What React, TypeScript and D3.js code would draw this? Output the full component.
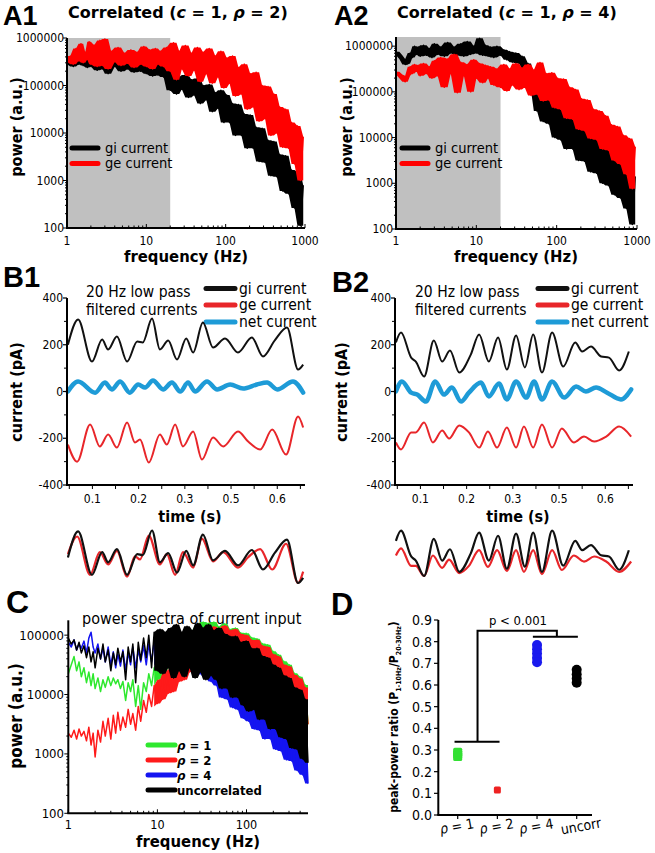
import React from "react";
import * as d3 from "d3";

const FONT = "'DejaVu Sans Condensed', 'DejaVu Sans', sans-serif";
const FONT_WIDE = "'DejaVu Sans', sans-serif";
const FONT_LETTER = "'Liberation Sans', Arial, sans-serif";

// ---------- Panel A: power spectra (values are log10 of power) ----------
const freqA = [1,1.1,1.2,1.3,1.4,1.5,1.6,1.7,1.8,1.9,2,2.2,2.4,2.6,2.8,3,3.3,3.6,4,4.4,4.8,5.3,5.8,6.4,7,7.7,8.5,9.3,10,11,12,13,14,15,16.5,18,20,22,24,26,28,31,34,37,40,44,48,52,57,62,68,74,80,87,95,103,112,122,133,145,158,172,187,204,222,242,264,288,314,342,372,405,441,480,523,570,621,677,737,803,875,950];

const a1GeLog = [5.50,5.62,5.45,5.78,5.52,5.88,5.48,5.70,5.55,5.92,
 5.45,5.85,5.40,5.95,5.42,5.98,5.35,5.72,5.50,5.80,
 5.42,5.68,5.47,5.75,5.38,5.70,5.45,5.82,5.40,5.75,
 5.35,5.78,5.45,5.72,5.40,5.80,5.30,5.90,5.12,5.72,
 5.35,5.84,5.20,5.68,5.32,5.80,5.08,5.70,5.25,5.78,
 5.05,5.62,5.18,5.72,4.95,5.58,5.05,5.62,4.78,5.38,
 4.82,5.45,4.50,5.25,4.55,5.28,4.25,5.00,4.30,4.98,
 3.95,4.82,4.00,4.55,3.70,4.50,3.68,4.22,3.35,4.15,
 3.00,3.92];
const a1GiLog = [5.45,5.55,5.40,5.62,5.45,5.70,5.42,5.60,5.38,5.72,
 5.40,5.65,5.32,5.75,5.35,5.70,5.25,5.58,5.40,5.62,
 5.30,5.55,5.35,5.60,5.28,5.52,5.30,5.58,5.25,5.50,
 5.20,5.48,5.22,5.45,5.18,5.42,4.90,5.28,4.82,5.18,
 4.92,5.22,4.75,5.12,4.80,5.15,4.62,5.00,4.70,5.02,
 4.45,4.85,4.52,4.90,4.22,4.80,4.22,4.62,3.95,4.60,
 3.95,4.40,3.68,4.38,3.68,4.12,3.40,4.10,3.38,3.85,
 3.10,3.82,3.08,3.55,2.78,3.52,2.72,3.22,2.42,3.18,
 2.05,2.90];
const a2GiLog = [5.88,5.80,5.72,5.60,5.62,5.85,5.75,6.00,5.82,5.98,
 5.78,6.02,5.80,5.95,5.75,6.05,5.82,5.98,5.78,6.08,
 5.85,5.98,5.80,6.05,5.78,6.10,5.82,6.00,5.85,6.17,
 5.80,6.02,5.78,5.98,5.75,6.00,5.80,5.92,5.70,5.88,
 5.65,5.85,5.62,5.78,5.50,5.62,5.02,5.32,4.58,4.92,
 4.35,4.88,4.30,4.68,4.00,4.65,3.95,4.50,3.75,4.48,
 3.75,4.30,3.50,4.26,3.48,4.05,3.25,4.05,3.22,3.82,
 3.00,3.82,2.95,3.60,2.75,3.58,2.68,3.40,2.45,3.38,
 2.10,3.15];
const a2GeLog = [5.44,5.38,5.30,5.22,5.35,5.55,5.40,5.60,5.45,5.58,
 5.35,5.62,5.40,5.55,5.30,5.68,5.35,5.75,5.10,5.72,
 5.40,5.82,4.98,5.65,5.35,5.60,5.00,5.70,5.30,5.62,
 5.20,5.58,5.30,5.55,5.15,5.50,5.10,5.60,5.02,5.50,
 5.15,5.62,5.05,5.52,5.10,5.60,4.92,5.48,4.95,5.64,
 4.80,5.40,4.82,5.42,4.65,5.30,4.62,5.28,4.42,5.10,
 4.40,5.05,4.18,4.85,4.15,4.82,3.98,4.62,3.95,4.58,
 3.75,4.48,3.72,4.28,3.50,4.24,3.42,4.05,3.20,3.98,
 2.88,3.80];

// ---------- Panel B: 20 Hz low-pass filtered currents (time s, current pA) ----------
const bTickValues = [0.1, 0.2, 0.3, 0.4, 0.5];
const bTickLabels = ["0.1", "0.2", "0.3", "0.5", "0.6"];
const bMinorTicks = [0.05, 0.1, 0.15, 0.2, 0.25, 0.3, 0.35, 0.4, 0.45, 0.5, 0.55];
const bYTicks = [-400, -200, 0, 200, 400];
const bYMinor = [-300, -100, 100, 300];

const b1GiT = [0.047,0.069,0.099,0.121,0.134,0.153,0.175,0.197,0.209,0.229,0.246,0.264,0.283,0.303,0.318,0.339,0.361,0.387,0.415,0.445,0.469,0.495,0.521,0.545,0.556];
const b1GiV = [200,308,128,222,180,235,128,214,210,312,180,218,137,227,167,295,188,227,167,231,150,220,274,94,115];
const b1NetT = [0.047,0.069,0.106,0.127,0.142,0.160,0.181,0.199,0.214,0.231,0.253,0.272,0.290,0.307,0.322,0.348,0.370,0.398,0.426,0.456,0.478,0.500,0.534,0.556];
const b1NetV = [0,43,-5,38,9,43,-5,30,17,47,9,38,0,38,0,43,9,30,13,30,38,9,43,-5];
const b1GeT = [0.047,0.067,0.095,0.116,0.134,0.153,0.175,0.192,0.203,0.222,0.246,0.261,0.279,0.296,0.318,0.337,0.361,0.383,0.415,0.437,0.463,0.489,0.519,0.545,0.556];
const b1GeV = [-227,-300,-141,-235,-184,-240,-133,-218,-205,-304,-184,-227,-141,-235,-171,-291,-197,-235,-171,-214,-248,-163,-270,-107,-154];

const b2GiT = [0.047,0.058,0.080,0.090,0.108,0.129,0.147,0.164,0.184,0.209,0.227,0.248,0.268,0.287,0.307,0.326,0.344,0.363,0.385,0.409,0.435,0.450,0.469,0.491,0.508,0.530,0.551];
const b2GiV = [210,252,145,128,64,218,128,175,81,158,244,128,231,94,240,103,244,81,252,107,210,171,192,150,145,90,171];
const b2NetT = [0.047,0.060,0.080,0.093,0.112,0.132,0.151,0.168,0.188,0.205,0.231,0.248,0.270,0.287,0.307,0.329,0.346,0.363,0.385,0.411,0.437,0.458,0.480,0.504,0.534,0.556];
const b2NetV = [0,43,-5,-13,-43,43,-13,17,-43,-5,38,-21,34,-34,43,-26,43,-34,43,-26,21,0,17,-5,-34,9];
const b2GeT = [0.047,0.058,0.080,0.090,0.108,0.127,0.147,0.162,0.184,0.205,0.227,0.246,0.266,0.287,0.307,0.324,0.344,0.363,0.385,0.406,0.432,0.454,0.476,0.502,0.530,0.556];
const b2GeV = [-218,-248,-175,-175,-133,-218,-167,-201,-145,-175,-240,-171,-240,-154,-240,-150,-240,-141,-240,-158,-218,-193,-214,-193,-150,-193];

// ---------- Panel C: power spectra of current input (log10 power) ----------
const freqC = [1,1.08,1.16,1.24,1.32,1.4,1.5,1.6,1.7,1.8,1.9,2,2.15,2.3,2.45,2.6,2.8,3,3.2,3.4,3.6,3.85,4.1,4.4,4.7,5,5.3,5.7,6.1,6.5,7,7.5,8,8.6,9.2,10,10.7,11.5,12.3,13.2,14.2,15.2,16.3,17.5,18.8,20,21.5,23,24.7,26.5,28.4,30.4,32.6,35,37.5,40,43,46,49,53,57,61,65,70,75,80,86,92,99,106,114,122,131,140,150,161,173,185,198,212,228,244,262,281,301,322,345,370,397,425,456,490];
const cRho1Log = [4.35,4.50,4.64,4.40,4.55,4.30,4.45,4.20,4.38,4.15,
 4.35,4.10,4.28,4.05,4.25,4.12,4.30,4.15,4.28,4.18,
 4.25,4.10,4.22,3.90,4.20,4.05,4.25,3.80,4.15,3.75,
 4.20,4.05,4.35,4.15,4.45,4.25,4.65,4.32,4.78,4.45,
 4.82,4.52,4.92,4.50,4.98,4.60,5.08,4.58,5.08,4.65,
 5.18,4.62,5.22,4.65,5.20,4.58,5.22,4.62,5.14,4.55,
 5.19,4.58,5.10,4.50,5.12,4.48,5.04,4.45,5.03,4.40,
 4.96,4.38,4.94,4.28,4.86,4.24,4.84,4.12,4.73,4.10,
 4.67,3.98,4.56,3.94,4.50,3.80,4.36,3.75,4.30,3.60,
 4.16,3.50];
const cRho2Log = [3.35,3.28,3.40,3.25,3.42,3.30,3.38,3.22,3.45,3.15,
 3.35,2.95,3.40,3.20,3.55,3.30,3.60,3.25,3.65,3.35,
 3.70,3.40,3.62,3.45,3.75,3.50,3.68,3.40,3.80,3.55,
 3.90,3.70,4.00,3.80,4.15,3.85,4.25,3.92,4.38,4.02,
 4.42,4.05,4.58,4.22,4.60,4.25,4.78,4.38,4.82,4.40,
 5.00,4.48,5.02,4.58,5.12,4.52,5.14,4.60,5.10,4.52,
 5.16,4.55,5.08,4.45,5.10,4.48,5.02,4.38,5.00,4.38,
 4.92,4.28,4.92,4.22,4.82,4.20,4.80,4.08,4.68,4.05,
 4.64,3.92,4.50,3.90,4.47,3.78,4.33,3.75,4.27,3.60,
 4.12,3.50];
const cRho4Log = [4.88,4.80,4.92,4.75,4.85,4.78,4.90,4.70,4.95,5.05,
 4.80,4.70,4.85,4.60,4.78,4.55,4.80,4.50,4.72,4.45,
 4.68,4.48,4.75,4.42,4.70,4.50,4.80,4.45,4.75,4.55,
 4.82,4.50,4.85,4.55,4.90,4.50,4.95,4.42,5.02,4.50,
 4.96,4.38,5.04,4.48,4.98,4.35,5.06,4.48,4.98,4.32,
 5.03,4.35,4.96,4.28,4.97,4.22,4.88,4.15,4.86,3.95,
 4.78,3.92,4.74,3.78,4.64,3.75,4.62,3.60,4.54,3.55,
 4.46,3.42,4.36,3.40,4.32,3.25,4.20,3.25,4.16,3.08,
 4.04,3.05,3.96,2.90,3.84,2.88,3.76,2.72,3.66,2.65,
 3.62,2.50];
const cUncorrLog = [4.95,4.85,4.92,4.75,4.88,4.70,4.82,4.62,4.80,4.55,
 4.72,4.45,4.78,4.60,4.85,4.55,4.75,4.40,4.70,4.50,
 4.78,4.55,4.72,4.25,4.80,4.55,4.85,4.20,4.88,4.58,
 4.95,4.62,5.00,4.45,5.05,4.40,5.10,4.35,5.05,4.45,
 5.12,4.28,5.18,4.40,5.05,4.30,5.15,4.45,5.08,4.28,
 5.20,4.38,5.12,4.25,5.18,4.32,5.08,4.25,5.12,4.10,
 5.02,4.10,4.98,3.95,4.98,3.95,4.88,3.82,4.90,3.72,
 4.78,3.75,4.78,3.58,4.65,3.58,4.62,3.42,4.50,3.42,
 4.45,3.28,4.32,3.25,4.28,3.10,4.12,3.08,4.08,2.92,
 3.92,2.85];

// ---------- Panel D: peak-power ratio ----------
const dCategories = ["ρ = 1", "ρ = 2", "ρ = 4", "uncorr"];
const dRho1 = [0.27, 0.28, 0.29];
const dRho2 = [0.115];
const dRho4 = [0.785, 0.765, 0.745, 0.725, 0.705];
const dUncorr = [0.67, 0.65, 0.63, 0.61];
const dYTicks = [0, 0.1, 0.2, 0.3, 0.4, 0.5, 0.6, 0.7, 0.8, 0.9];

const isMajorLog = (t: number) => Math.abs(Math.log10(t) - Math.round(Math.log10(t))) < 1e-9;
const fmtInt = d3.format("d");

// dense noisy spectrum: filled band between neighbouring extremes + the jagged trace
function noisyPaths(vals: number[], freqs: number[], x: (f: number) => number, y: (p: number) => number, minF: number) {
  const n = vals.length;
  const lo = (i: number) => Math.min(vals[Math.max(0, i - 1)], vals[i], vals[Math.min(n - 1, i + 1)]);
  const hi = (i: number) => Math.max(vals[Math.max(0, i - 1)], vals[i], vals[Math.min(n - 1, i + 1)]);
  const area = d3.area<number>()
    .defined((_, i) => freqs[i] >= minF)
    .x((_, i) => x(freqs[i]))
    .y0((_, i) => y(Math.pow(10, lo(i))))
    .y1((_, i) => y(Math.pow(10, hi(i))));
  const line = d3.line<number>().x((_, i) => x(freqs[i])).y((v) => y(Math.pow(10, v)));
  return { band: area(vals) || "", trace: line(vals) || "" };
}

function Noisy({ vals, freqs, x, y, minF, color }: any) {
  const { band, trace } = noisyPaths(vals, freqs, x, y, minF);
  return (
    <g>
      <path d={band} fill={color} stroke="none" />
      <path d={trace} fill="none" stroke={color} strokeWidth={1.5} strokeLinejoin="round" />
    </g>
  );
}

function Rho({ n }: { n: string }) {
  return (
    <>
      <tspan fontStyle="italic">ρ</tspan>
      <tspan>{" = " + n}</tspan>
    </>
  );
}

function SpectrumA(p: {
  x0: number; x1: number; yTop: number; yBottom: number; topLog: number;
  gi: number[]; ge: number[]; letter: string; letterX: number; titleX: number; rho: string;
  yLabelX: number; xLabelX: number; legendX: number;
}) {
  const x = d3.scaleLog().domain([1, 1000]).range([p.x0, p.x1]);
  const y = d3.scaleLog().domain([100, Math.pow(10, p.topLog)]).range([p.yBottom, p.yTop]);
  const xt = x.ticks();
  const yt = y.ticks();
  return (
    <g>
      <text x={p.letterX} y={25} fontFamily={FONT_LETTER} fontWeight="bold" fontSize={27}>{p.letter}</text>
      <text x={p.titleX} y={18} fontFamily={FONT_WIDE} fontWeight="bold" fontSize={16}>
        <tspan>Correlated (</tspan>
        <tspan fontStyle="italic">c</tspan>
        <tspan>{" = 1, "}</tspan>
        <tspan fontStyle="italic">ρ</tspan>
        <tspan>{" = " + p.rho + ")"}</tspan>
      </text>
      <rect x={p.x0} y={p.yTop} width={x(20) - p.x0} height={p.yBottom - p.yTop} fill="#c0c0c0" />
      <Noisy vals={p.gi} freqs={freqA} x={x} y={y} minF={1} color="#000" />
      <Noisy vals={p.ge} freqs={freqA} x={x} y={y} minF={1} color="#ff0000" />
      <line x1={p.x0} x2={p.x0} y1={p.yTop} y2={p.yBottom} stroke="#000" strokeWidth={2} />
      <line x1={p.x0 - 1} x2={p.x1} y1={p.yBottom} y2={p.yBottom} stroke="#000" strokeWidth={2} />
      {yt.map((t) => (
        <line key={"yt" + t} x1={p.x0} x2={p.x0 - (isMajorLog(t) ? 4 : 2)} y1={y(t)} y2={y(t)} stroke="#000" strokeWidth={1} />
      ))}
      {yt.filter(isMajorLog).map((t) => (
        <text key={"yl" + t} x={p.x0 - 3} y={y(t)} dy="0.35em" textAnchor="end" fontSize={12}>{fmtInt(t)}</text>
      ))}
      {xt.map((t) => (
        <line key={"xt" + t} x1={x(t)} x2={x(t)} y1={p.yBottom} y2={p.yBottom - (isMajorLog(t) ? 4 : 2.5)} stroke="#000" strokeWidth={1} />
      ))}
      {xt.filter(isMajorLog).map((t) => (
        <text key={"xl" + t} x={x(t)} y={241} dy="0.35em" textAnchor="middle" fontSize={12}>{fmtInt(t)}</text>
      ))}
      <text x={p.xLabelX} y={262} textAnchor="middle" fontWeight="bold" fontSize={16.5}>frequency (Hz)</text>
      <text transform={`translate(${p.yLabelX},127) rotate(-90)`} textAnchor="middle" fontWeight="bold" fontSize={16}>power (a.u.)</text>
      <line x1={p.legendX} x2={p.legendX + 26} y1={148} y2={148} stroke="#000" strokeWidth={5} strokeLinecap="round" />
      <line x1={p.legendX} x2={p.legendX + 26} y1={163.5} y2={163.5} stroke="#ff0000" strokeWidth={5} strokeLinecap="round" />
      <text x={p.legendX + 33} y={152.5} fontSize={14.5}>gi current</text>
      <text x={p.legendX + 33} y={168} fontSize={14.5}>ge current</text>
    </g>
  );
}

function CurrentB(p: {
  x0: number; x1: number; giT: number[]; giV: number[]; geT: number[]; geV: number[]; netT: number[]; netV: number[];
  letter: string; letterX: number; letterY: number; noteX: number; legX: number; yLabelX: number; xLabelX: number; base: number;
}) {
  const x = d3.scaleLinear().domain([0.045, 0.56]).range([p.x0, p.x1]);
  const y = d3.scaleLinear().domain([-400, 400]).range([485, 298]);
  const mk = (ts: number[], ys: (v: number) => number) =>
    d3.line<number>().x((_, i) => x(ts[i])).y(ys).curve(d3.curveMonotoneX);
  const giMin = d3.min(p.giV) as number;
  const negGe = p.geV.map((v) => -v);
  const negGeMin = d3.min(negGe) as number;
  const yb = d3.scaleLinear().domain([0, 220]).range([p.base, p.base - 53]);
  const legend: [string, string, number][] = [["#111", "gi current", 288.5], ["#e8262a", "ge current", 305], ["#1e9bd7", "net current", 322]];
  return (
    <g>
      <text x={p.letterX} y={p.letterY} fontFamily={FONT_LETTER} fontWeight="bold" fontSize={29}>{p.letter}</text>
      <text x={p.noteX} y={297} fontSize={15.5}>20 Hz low pass</text>
      <text x={p.noteX} y={315} fontSize={15.5}>filtered currents</text>
      {legend.map(([c, t, yy]) => (
        <g key={t}>
          <line x1={p.legX} x2={p.legX + 29} y1={yy} y2={yy} stroke={c} strokeWidth={5} strokeLinecap="round" />
          <text x={p.legX + 33} y={yy + 5} fontSize={15.5}>{t}</text>
        </g>
      ))}
      <path d={mk(p.giT, (v) => y(v))(p.giV) || ""} fill="none" stroke="#111" strokeWidth={2} />
      <path d={mk(p.geT, (v) => y(v))(p.geV) || ""} fill="none" stroke="#e8262a" strokeWidth={2} />
      <path d={mk(p.netT, (v) => y(v))(p.netV) || ""} fill="none" stroke="#1e9bd7" strokeWidth={4.5} strokeLinecap="round" />
      <line x1={p.x0} x2={p.x0} y1={298} y2={485} stroke="#000" strokeWidth={2} />
      <line x1={p.x0 - 1} x2={p.x1} y1={485} y2={485} stroke="#000" strokeWidth={2} />
      {bYTicks.map((t) => (
        <g key={"by" + t}>
          <line x1={p.x0} x2={p.x0 - 4} y1={y(t)} y2={y(t)} stroke="#000" strokeWidth={1.2} />
          <text x={p.x0 - 4} y={y(t)} dy="0.35em" textAnchor="end" fontSize={12}>{t}</text>
        </g>
      ))}
      {bYMinor.map((t) => (
        <line key={"bm" + t} x1={p.x0} x2={p.x0 - 3} y1={y(t)} y2={y(t)} stroke="#000" strokeWidth={1} />
      ))}
      {bMinorTicks.map((t) => (
        <line key={"bx" + t} x1={x(t)} x2={x(t)} y1={485} y2={489} stroke="#000" strokeWidth={1} />
      ))}
      {bTickValues.map((t, i) => (
        <text key={"bl" + t} x={x(t)} y={499} dy="0.35em" textAnchor="middle" fontSize={12}>{bTickLabels[i]}</text>
      ))}
      <text x={p.xLabelX} y={522} textAnchor="middle" fontWeight="bold" fontSize={16}>time (s)</text>
      <text transform={`translate(${p.yLabelX},392) rotate(-90)`} textAnchor="middle" fontWeight="bold" fontSize={16}>current (pA)</text>
      <path d={mk(p.geT, (v) => yb(v - negGeMin))(negGe) || ""} fill="none" stroke="#e8262a" strokeWidth={2.2} />
      <path d={mk(p.giT, (v) => yb(v - giMin))(p.giV) || ""} fill="none" stroke="#111" strokeWidth={2.2} />
    </g>
  );
}

function SpectrumC() {
  const x = d3.scaleLog().domain([1, 490]).range([68.3, 308]);
  const y = d3.scaleLog().domain([100, Math.pow(10, 5.25)]).range([813.3, 620.3]);
  const series: [number[], string][] = [
    [cRho1Log, "#2ee82e"],
    [cRho2Log, "#ff1a1a"],
    [cRho4Log, "#1414f0"],
    [cUncorrLog, "#000"],
  ];
  const xt = x.ticks();
  const yt = y.ticks();
  const legend: [string, string][] = [["#2ee82e", "1"], ["#ff1a1a", "2"], ["#1414f0", "4"], ["#000", "u"]];
  return (
    <g>
      <text x={6} y={613} fontFamily={FONT_LETTER} fontWeight="bold" fontSize={32}>C</text>
      <text x={82} y={624} fontSize={16}>power spectra of current input</text>
      {series.map(([vals, c]) => (
        <Noisy key={c} vals={vals} freqs={freqC} x={x} y={y} minF={9} color={c} />
      ))}
      <line x1={68.3} x2={68.3} y1={620.3} y2={813.3} stroke="#000" strokeWidth={2} />
      <line x1={67.3} x2={308} y1={813.3} y2={813.3} stroke="#000" strokeWidth={2} />
      {yt.map((t) => (
        <line key={"cy" + t} x1={68.3} x2={68.3 - (isMajorLog(t) ? 4 : 2)} y1={y(t)} y2={y(t)} stroke="#000" strokeWidth={1} />
      ))}
      {yt.filter(isMajorLog).map((t) => (
        <text key={"cyl" + t} x={64} y={y(t)} dy="0.35em" textAnchor="end" fontSize={13}>{fmtInt(t)}</text>
      ))}
      {xt.map((t) => (
        <line key={"cx" + t} x1={x(t)} x2={x(t)} y1={813.3} y2={813.3 - (isMajorLog(t) ? 4 : 2.5)} stroke="#000" strokeWidth={1} />
      ))}
      {xt.filter(isMajorLog).map((t) => (
        <text key={"cxl" + t} x={x(t)} y={824.5} dy="0.35em" textAnchor="middle" fontSize={12.5}>{fmtInt(t)}</text>
      ))}
      <text x={198} y={847} textAnchor="middle" fontWeight="bold" fontSize={16.5}>frequency (Hz)</text>
      <text transform="translate(16,716) rotate(-90)" textAnchor="middle" dy="0.35em" fontWeight="bold" fontSize={17}>power (a.u.)</text>
      {legend.map(([c, n], i) => (
        <g key={"cl" + n}>
          <line x1={148} x2={175} y1={745 + i * 15} y2={745 + i * 15} stroke={c} strokeWidth={5} strokeLinecap="round" />
          <text x={177} y={750 + i * 15} fontWeight="bold" fontSize={13}>
            {n === "u" ? "uncorrelated" : <Rho n={n} />}
          </text>
        </g>
      ))}
    </g>
  );
}

function ScatterD() {
  const y = d3.scaleLinear().domain([0, 0.9]).range([815, 620]);
  const x = d3.scalePoint<string>().domain(dCategories).range([457.7, 576.7]);
  const groups: [string, number[], string, string][] = [
    ["ρ = 1", dRho1, "#33e033", "sq"],
    ["ρ = 2", dRho2, "#ee2222", "sq"],
    ["ρ = 4", dRho4, "#1a1aee", "c"],
    ["uncorr", dUncorr, "#000", "c"],
  ];
  const xm12 = ((x("ρ = 1") as number) + (x("ρ = 2") as number)) / 2;
  const xm4u = ((x("ρ = 4") as number) + (x("uncorr") as number)) / 2;
  const yLow = y(0.338), yTop = y(0.85), yHigh = y(0.823);
  return (
    <g>
      <text x={331} y={615} fontFamily={FONT_LETTER} fontWeight="bold" fontSize={31}>D</text>
      <line x1={438.3} x2={438.3} y1={620} y2={815} stroke="#000" strokeWidth={2} />
      <line x1={437.3} x2={592} y1={815} y2={815} stroke="#000" strokeWidth={2} />
      {dYTicks.map((t) => (
        <g key={"dy" + t}>
          <line x1={438.3} x2={434} y1={y(t)} y2={y(t)} stroke="#000" strokeWidth={1.2} />
          <text x={432} y={y(t)} dy="0.35em" textAnchor="end" fontSize={14}>{t.toFixed(1)}</text>
        </g>
      ))}
      {dCategories.map((c) => (
        <g key={"dx" + c}>
          <line x1={x(c) as number} x2={x(c) as number} y1={815} y2={819} stroke="#000" strokeWidth={1.2} />
          <text transform={`translate(${(x(c) as number) + (c === "uncorr" ? 5 : 0)},831) rotate(-10)`} textAnchor="middle" fontSize={14}>
            {c === "uncorr" ? "uncorr" : <Rho n={c.slice(-1)} />}
          </text>
        </g>
      ))}
      <path
        d={`M${xm12 - 23},${yLow}H${xm12 + 22}M${xm12},${yLow}V${yTop}H${xm4u}V${yHigh}M${xm4u - 24},${yHigh}H${xm4u + 21}`}
        fill="none" stroke="#000" strokeWidth={2}
      />
      <text x={518} y={625} textAnchor="middle" fontSize={13}>p &lt; 0.001</text>
      {groups.map(([cat, vals, col, shape]) =>
        vals.map((v, i) =>
          shape === "sq" ? (
            <rect key={cat + i} x={(x(cat) as number) - (vals.length > 1 ? 4.5 : 3.5)} y={y(v) - (vals.length > 1 ? 4.5 : 3.5)}
              width={vals.length > 1 ? 9 : 7} height={vals.length > 1 ? 9 : 7} rx={1.5} fill={col} />
          ) : (
            <circle key={cat + i} cx={x(cat) as number} cy={y(v)} r={5} fill={col} />
          )
        )
      )}
      <text transform="translate(398,717) rotate(-90)" textAnchor="middle" fontWeight="bold" fontSize={12}>
        <tspan>peak-power ratio (P</tspan>
        <tspan fontSize={7} dy={3}>1-10Hz</tspan>
        <tspan dy={-3}>/P</tspan>
        <tspan fontSize={7} dy={3}>20-30Hz</tspan>
        <tspan dy={-3}>)</tspan>
      </text>
    </g>
  );
}

export default function App() {
  return (
    <svg width={655} height={853} viewBox="0 0 655 853" fontFamily={FONT}
      style={{ position: "absolute", left: 0, top: 0, background: "#fff" }}>
      <rect width={655} height={853} fill="#fff" />
      <SpectrumA x0={67} x1={305} yTop={38} yBottom={228} topLog={6} gi={a1GiLog} ge={a1GeLog}
        letter="A1" letterX={3} titleX={68} rho="2" yLabelX={22} xLabelX={186} legendX={72} />
      <SpectrumA x0={396} x1={637} yTop={37} yBottom={229} topLog={6.2} gi={a2GiLog} ge={a2GeLog}
        letter="A2" letterX={334} titleX={397} rho="4" yLabelX={352} xLabelX={516} legendX={402} />
      <CurrentB x0={67} x1={305} giT={b1GiT} giV={b1GiV} geT={b1GeT} geV={b1GeV} netT={b1NetT} netV={b1NetV}
        letter="B1" letterX={3} letterY={287} noteX={86} legX={206} yLabelX={22} xLabelX={190} base={583} />
      <CurrentB x0={395} x1={633} giT={b2GiT} giV={b2GiV} geT={b2GeT} geV={b2GeV} netT={b2NetT} netV={b2NetV}
        letter="B2" letterX={332} letterY={292} noteX={415} legX={538} yLabelX={347} xLabelX={518} base={576} />
      <SpectrumC />
      <ScatterD />
    </svg>
  );
}
